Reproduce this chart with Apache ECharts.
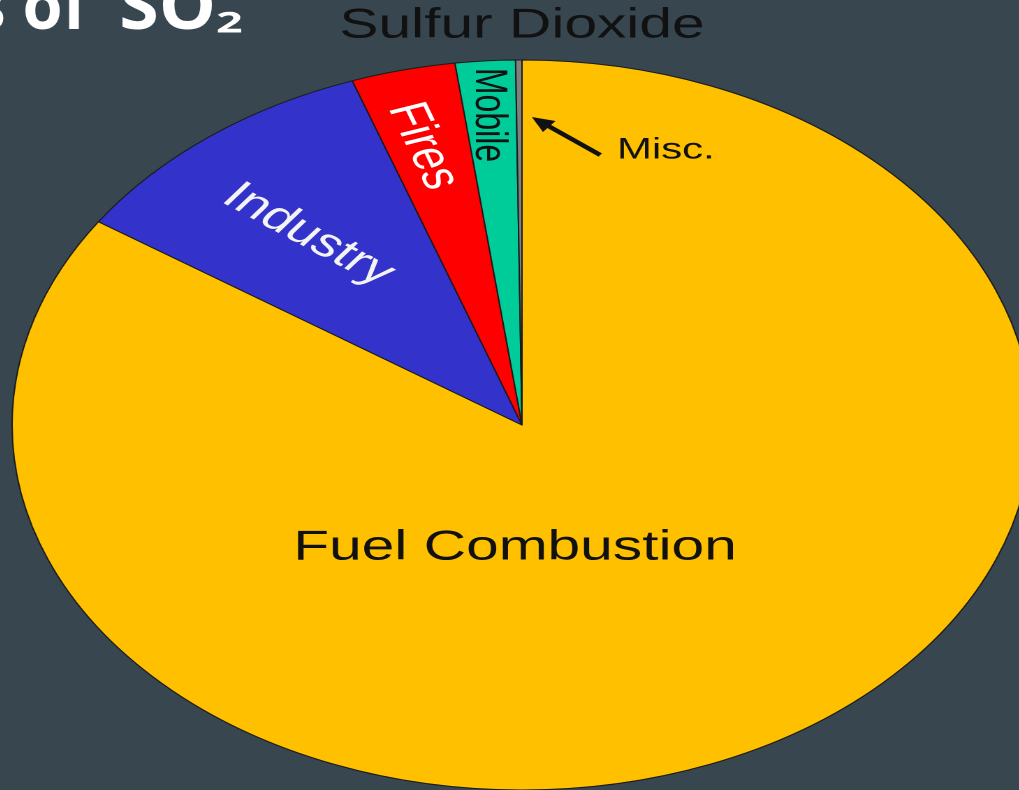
<!DOCTYPE html>
<html>
<head>
<meta charset="utf-8">
<script src="https://cdn.jsdelivr.net/npm/echarts@6/dist/echarts.min.js"></script>
<style>
  html, body { margin: 0; padding: 0; width: 1019px; height: 790px; overflow: hidden; background: #37464f; }
  #main { position: absolute; left: 142px; top: 0; width: 760px; height: 790px; transform-origin: 380px 0; transform: scaleX(1.397); }
</style>
</head>
<body>
<div id="main"></div>
<script>
const names = ['Fuel Combustion', 'Industry', 'Fires', 'Mobile', 'Misc.']
const shares = [84.4, 10.2, 3.3, 1.9, 0.2]
const sliceColors = ['#ffc000', '#3333cc', '#ff0000', '#00cc99', '#808080']

// where each label sits (chart coords, before the horizontal stretch)
const labelSpots = {
  'Fuel Combustion': { x: 375, y: 548, rotate: 0, size: 42, color: '#111' },
  'Industry': { x: 227, y: 235, rotate: -37, size: 40, color: '#f4f4f4' },
  'Fires': { x: 309, y: 146, rotate: -71, size: 40, color: '#fff' },
  'Mobile': { x: 356, y: 115, rotate: -90, size: 32, color: '#111' },
  'Misc.': { x: 483, y: 150, rotate: 0, size: 30, color: '#111' }
}

const chart = echarts.init(document.getElementById('main'), null, { devicePixelRatio: 2 })

const pieData = names.map((name, i) => {
  return {
    name,
    value: shares[i],
    itemStyle: { color: sliceColors[i] },
    label: { fontSize: labelSpots[name].size, color: labelSpots[name].color }
  }
})

const titleFont = 'bold 66px "Open Sans"'

const option = {
  backgroundColor: '#37464f',
  animation: false,
  title: {
    text: 'Sulfur Dioxide',
    left: 'center',
    top: 5,
    padding: 0,
    textStyle: { fontFamily: 'Liberation Sans', fontSize: 42, fontWeight: 'normal', color: '#111' }
  },
  graphic: [
    {
      type: 'text',
      x: 69,
      y: 10,
      scaleX: 0.7,
      z: 100,
      style: { text: 'Sources of', fill: '#fff', font: titleFont, align: 'right', verticalAlign: 'middle' }
    },
    {
      type: 'text',
      x: 161,
      y: 10,
      scaleX: 0.78,
      z: 100,
      style: { text: 'SO', fill: '#fff', font: titleFont, align: 'right', verticalAlign: 'middle' }
    },
    {
      type: 'text',
      x: 161,
      y: 24,
      scaleX: 1.15,
      z: 100,
      style: { text: '2', fill: '#fff', font: 'bold 29px "Open Sans"', align: 'left', verticalAlign: 'middle' }
    },
    {
      type: 'line',
      z: 100,
      shape: { x1: 436, y1: 155, x2: 395, y2: 123 },
      style: { stroke: '#111', lineWidth: 4 }
    },
    {
      type: 'polygon',
      z: 100,
      shape: { points: [[387, 117], [395, 132], [404, 121]] },
      style: { fill: '#111' }
    }
  ],
  series: [{
    type: 'pie',
    center: [380, 425],
    radius: 365,
    startAngle: 90,
    clockwise: true,
    avoidLabelOverlap: false,
    itemStyle: { borderColor: '#1a1a1a', borderWidth: 1 },
    label: { show: true, position: 'inside', fontFamily: 'Liberation Sans', formatter: '{b}' },
    labelLine: { show: false },
    emphasis: { disabled: true },
    labelLayout(params) {
      const spot = labelSpots[names[params.dataIndex]]
      return { x: spot.x, y: spot.y, rotate: spot.rotate, align: 'center', verticalAlign: 'middle' }
    },
    data: pieData
  }]
}

chart.setOption(option)
</script>
</body>
</html>
